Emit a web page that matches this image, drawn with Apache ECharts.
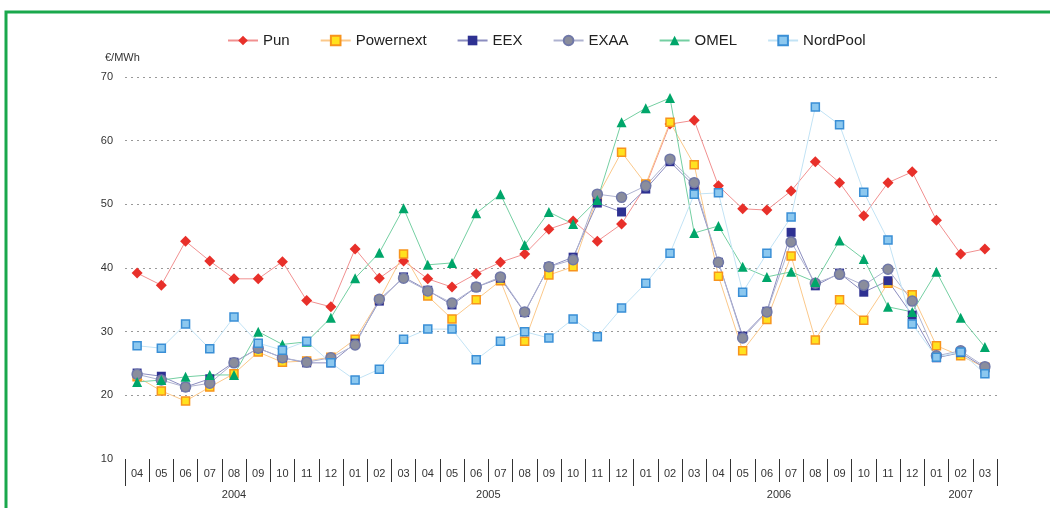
<!DOCTYPE html>
<html>
<head>
<meta charset="utf-8">
<script src="https://cdn.jsdelivr.net/npm/echarts@6/dist/echarts.min.js"></script>
<style>
  html, body { margin: 0; padding: 0; background: #fff; }
  #chart { width: 1050px; height: 508px; }
</style>
</head>
<body>
<div id="chart"></div>
<script>
// months from 04/2004 to 03/2007
var months = ['04','05','06','07','08','09','10','11','12',
    '01','02','03','04','05','06','07','08','09','10','11','12',
    '01','02','03','04','05','06','07','08','09','10','11','12',
    '01','02','03'];
var yearNames = ['2004', '2005', '2006', '2007'];
var yearMonthCounts = [9, 12, 12, 3];

var pun       = [39.2,37.3,44.2,41.1,38.3,38.3,41.0,34.9,33.9,43.0,38.4,41.1,38.3,37.0,39.1,40.9,42.2,46.1,47.4,44.2,46.9,52.9,62.6,63.2,52.9,49.3,49.1,52.1,56.7,53.4,48.2,53.4,55.1,47.5,42.2,43.0];
var powernext = [22.9,20.7,19.1,21.3,23.4,26.8,25.2,25.4,26.0,28.8,35.0,42.2,35.6,32.0,35.0,38.0,28.5,38.9,40.2,51.2,58.2,53.2,62.9,56.2,38.7,27.0,31.9,41.9,28.7,35.0,31.8,37.6,35.8,27.8,26.2,24.4];
var eex       = [23.5,23.0,21.3,22.6,25.2,27.4,25.9,25.1,25.1,28.2,34.8,38.6,36.5,34.2,37.0,38.4,33.0,40.2,41.7,50.2,48.8,52.4,56.7,52.9,40.9,29.3,33.2,45.6,37.2,39.2,36.2,38.0,32.6,25.9,26.7,24.3];
var exaa      = [23.3,22.4,21.3,21.9,25.1,27.4,25.9,25.2,25.9,27.9,35.1,38.4,36.4,34.5,37.0,38.6,33.1,40.2,41.3,51.6,51.1,52.9,57.1,53.4,40.9,29.0,33.1,44.1,37.6,39.0,37.3,39.8,34.8,26.2,27.0,24.5];
var omel      = [22.1,22.4,22.9,23.2,23.2,30.0,28.0,28.4,32.2,38.4,42.4,49.4,40.5,40.8,48.6,51.6,43.6,48.8,46.9,50.7,62.9,65.1,66.7,45.5,46.6,40.2,38.6,39.4,37.8,44.3,41.4,33.9,33.1,39.4,32.2,27.6];
var nordpool  = [27.8,27.4,31.2,27.3,32.3,28.2,27.1,28.5,25.1,22.4,24.1,28.8,30.4,30.4,25.6,28.5,30.0,29.0,32.0,29.2,33.7,37.6,42.3,51.6,51.8,36.2,42.3,48.0,65.3,62.5,51.9,44.4,31.2,26.0,26.8,23.4];

// year axis: points at every half month, from left edge to right edge of the month axis
var yearAxisData = [];
var yearTickIdx = [0];
for (var j = 0; j <= months.length * 2; j++) yearAxisData.push('');
var start = 0;
yearNames.forEach(function(name, k) {
    var n = yearMonthCounts[k];
    yearAxisData[start * 2 + n] = name;
    start += n;
    yearTickIdx.push(start * 2);
});

var font = 'Liberation Sans, Arial, sans-serif';
var chart = echarts.init(document.getElementById('chart'));

function lineSeries(name, data, symbol, size, fill, border, lineColor) {
    return {
        name: name,
        type: 'line',
        data: data,
        symbol: symbol,
        symbolSize: size,
        showAllSymbol: true,
        lineStyle: { width: 1, color: lineColor },
        itemStyle: { color: fill, borderColor: border, borderWidth: border === fill ? 0 : 1.5 },
        emphasis: { disabled: true }
    };
}

var option = {
    animation: false,
    textStyle: { fontFamily: font },
    title: {
        text: '€/MWh',
        left: 100,
        top: 47,
        textStyle: { fontSize: 11, fontWeight: 'normal', color: '#333', fontFamily: font }
    },
    legend: {
        top: 28,
        left: 222,
        itemGap: 30,
        itemWidth: 30,
        itemHeight: 12,
        textStyle: { fontSize: 15, color: '#222', fontFamily: font },
        data: ['Pun', 'Powernext', 'EEX', 'EXAA', 'OMEL', 'NordPool']
    },
    grid: { left: 125, right: 53, top: 77, bottom: 49 },
    xAxis: [{
        type: 'category',
        data: months,
        boundaryGap: true,
        axisLine: { show: false },
        axisTick: { show: true, interval: 0, length: 23, lineStyle: { color: '#333', width: 1 } },
        axisLabel: { interval: 0, margin: 9, fontSize: 11, color: '#333', fontFamily: font }
    }, {
        type: 'category',
        data: yearAxisData,
        boundaryGap: false,
        position: 'bottom',
        axisLine: { show: false },
        axisTick: {
            show: true,
            length: 27,
            interval: function(idx) { return yearTickIdx.indexOf(idx) >= 0; },
            lineStyle: { color: '#333', width: 1 }
        },
        axisLabel: { interval: 0, margin: 30, fontSize: 11, color: '#333', fontFamily: font }
    }],
    yAxis: {
        type: 'value',
        min: 10,
        max: 70,
        interval: 10,
        axisLine: { show: false },
        axisTick: { show: false },
        axisLabel: { fontSize: 11, color: '#333', margin: 12, fontFamily: font },
        splitLine: {
            show: true,
            lineStyle: {
                color: ['rgba(0,0,0,0)', '#999', '#999', '#999', '#999', '#999', '#999'],
                type: [2, 4],
                width: 1
            }
        }
    },
    graphic: [{
        type: 'rect',
        shape: { x: 6, y: 12, width: 1100, height: 600 },
        style: { fill: 'none', stroke: '#19a84c', lineWidth: 3 },
        silent: true
    }],
    series: [
        lineSeries('Pun', pun, 'diamond', 11, '#e8302a', '#e8302a', '#f19090'),
        lineSeries('Powernext', powernext, 'rect', 8, '#ffe21f', '#f7941d', '#fbc88a'),
        lineSeries('EEX', eex, 'rect', 9, '#2e3192', '#2e3192', '#8b8dbf'),
        lineSeries('EXAA', exaa, 'circle', 10, '#8a8d9c', '#7078a8', '#aeb2d0'),
        lineSeries('OMEL', omel, 'triangle', 10, '#00a66a', '#00a66a', '#74cfa2'),
        lineSeries('NordPool', nordpool, 'rect', 8, '#8cc8ef', '#3a8fd6', '#c2e3f5')
    ]
};
chart.setOption(option);
</script>
</body>
</html>
